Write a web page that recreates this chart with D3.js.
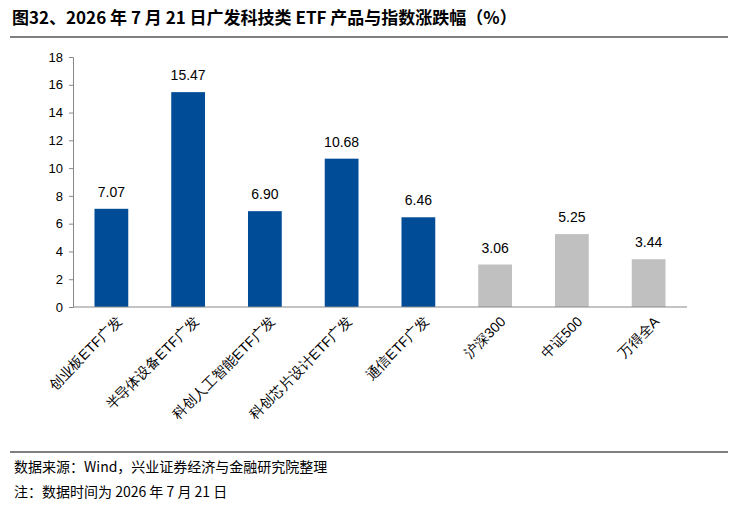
<!DOCTYPE html>
<html><head><meta charset="utf-8">
<script src="https://cdn.jsdelivr.net/npm/d3@7"></script>
<style>body{margin:0;background:#fff;font-family:"Noto Sans CJK SC","Liberation Sans",sans-serif}</style>
</head><body><svg id="c" width="740" height="506"></svg>
<script>
// categories and values
const categories = ["创业板ETF广发","半导体设备ETF广发","科创人工智能ETF广发","科创芯片设计ETF广发","通信ETF广发","沪深300","中证500","万得全A"];
const values = [7.07, 15.47, 6.90, 10.68, 6.46, 3.06, 5.25, 3.44];
const isEtf = [true, true, true, true, true, false, false, false];
const yTicks = [0,2,4,6,8,10,12,14,16,18];

const svg = d3.select("#c");
const plotLeft = 73, plotRight = 687, plotTop = 57, plotBottom = 307;

// title
svg.append("text").attr("x",12).attr("y",24).attr("font-size",17).attr("font-weight","bold")
  .attr("fill","#000").text("图32、2026 年 7 月 21 日广发科技类 ETF 产品与指数涨跌幅（%）");
svg.append("line").attr("x1",10).attr("x2",728).attr("y1",37).attr("y2",37).attr("stroke","#000").attr("stroke-width",1);

const x = d3.scaleBand().domain(categories).range([plotLeft, plotRight]).paddingInner(0.56).paddingOuter(0.28);
const y = d3.scaleLinear().domain([0,18]).range([plotBottom, plotTop]);

// y axis
const ya = svg.append("g").attr("transform",`translate(${plotLeft},0)`)
  .call(d3.axisLeft(y).tickValues(yTicks).tickSize(4).tickPadding(6));
ya.selectAll("text").attr("font-size",13).attr("font-family","Liberation Sans, Arial").attr("fill","#000");
ya.selectAll("path,line").attr("stroke","#888");

// bars
svg.selectAll("rect.bar").data(values).join("rect")
  .attr("x",(d,i)=>x(categories[i])).attr("width",x.bandwidth())
  .attr("y",d=>y(d)).attr("height",d=>plotBottom-y(d))
  .attr("fill",(d,i)=>isEtf[i] ? "#004C97" : "#C0C0C0");

svg.selectAll("text.val").data(values).join("text")
  .attr("x",(d,i)=>x(categories[i])+x.bandwidth()/2).attr("y",d=>y(d)-12)
  .attr("text-anchor","middle").attr("font-size",14).attr("font-family","Liberation Sans, Arial")
  .text(d=>d.toFixed(2));

// x axis
const xa = svg.append("g").attr("transform",`translate(0,${plotBottom})`)
  .call(d3.axisBottom(x).tickSize(0).tickPadding(0));
xa.select("path").attr("stroke","#888").attr("d",`M${plotLeft},0H${plotRight}`);
xa.selectAll("text").attr("font-size",14).attr("fill","#000")
  .attr("text-anchor","end").attr("dy","0.35em")
  .attr("transform","translate(8,12) rotate(-45)");

// footer
svg.append("line").attr("x1",10).attr("x2",728).attr("y1",452).attr("y2",452).attr("stroke","#000").attr("stroke-width",1);
svg.append("text").attr("x",14).attr("y",472).attr("font-size",14).text("数据来源：Wind，兴业证券经济与金融研究院整理");
svg.append("text").attr("x",14).attr("y",497).attr("font-size",14).text("注：数据时间为 2026 年 7 月 21 日");
</script></body></html>
